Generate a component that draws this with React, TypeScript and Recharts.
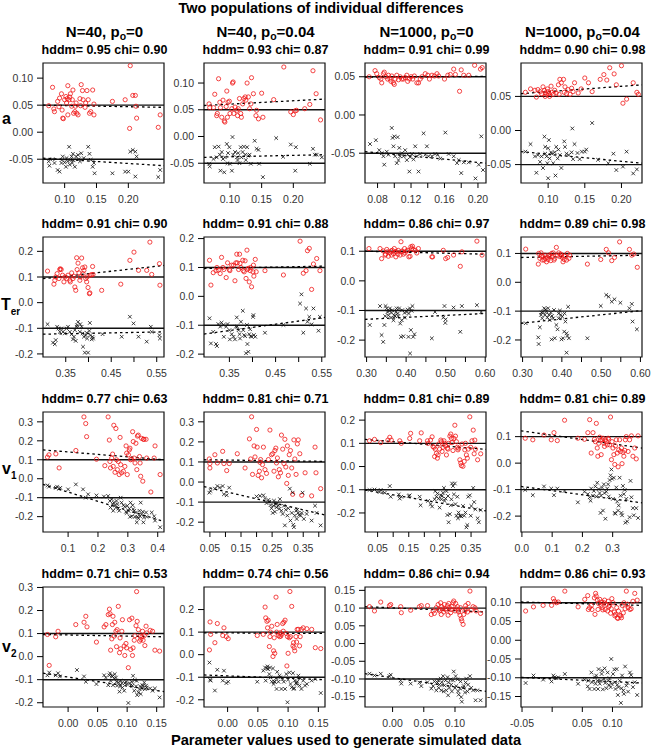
import React from 'react';
import { ScatterChart, Scatter, XAxis, YAxis, ReferenceLine, ReferenceArea } from 'recharts';

type Pt = [number, number];

// ---------- descriptors ----------
const sampleSizes = ['40', '40', '1000', '1000'];
const outlierProps = ['0', '0.04', '0', '0.04'];
const paramNames = ['a', 'T', 'v', 'v'];
const paramSubs = ['', 'er', '1', '2'];
const hddmScores = [
  [0.95, 0.93, 0.91, 0.9],
  [0.91, 0.91, 0.86, 0.89],
  [0.77, 0.81, 0.81, 0.81],
  [0.71, 0.74, 0.86, 0.86],
];
const chiScores = [
  [0.9, 0.87, 0.99, 0.98],
  [0.9, 0.88, 0.97, 0.98],
  [0.63, 0.71, 0.89, 0.89],
  [0.53, 0.56, 0.94, 0.93],
];
const trueValues = [0.05, 0.1, 0.1, 0.1];

// ---------- axes ----------
const xDomains: Pt[][] = [
  [[0.066, 0.256], [0.059, 0.25], [0.065, 0.2096], [0.063, 0.228]],
  [[0.3, 0.566], [0.295, 0.557], [0.296, 0.602], [0.296, 0.604]],
  [[0.016, 0.421], [0.031, 0.42], [0.0095, 0.398], [-0.003, 0.397]],
  [[-0.0425, 0.1624], [-0.039, 0.161], [-0.0442, 0.1497], [-0.0517, 0.149]],
];
const yDomains: Pt[][] = [
  [[-0.094, 0.128], [-0.087, 0.1375], [-0.089, 0.068], [-0.077, 0.099]],
  [[-0.212, 0.256], [-0.21, 0.2055], [-0.257, 0.148], [-0.259, 0.157]],
  [[-0.281, 0.352], [-0.249, 0.349], [-0.282, 0.235], [-0.26, 0.193]],
  [[-0.2185, 0.302], [-0.232, 0.3], [-0.179, 0.1595], [-0.178, 0.142]],
];
const xTickValues: number[][][] = [
  [[0.1, 0.15, 0.2], [0.1, 0.15, 0.2], [0.08, 0.1, 0.12, 0.14, 0.16, 0.18, 0.2], [0.1, 0.15, 0.2]],
  [[0.35, 0.4, 0.45, 0.5, 0.55], [0.35, 0.4, 0.45, 0.5, 0.55], [0.3, 0.35, 0.4, 0.45, 0.5, 0.55, 0.6], [0.3, 0.35, 0.4, 0.45, 0.5, 0.55, 0.6]],
  [[0.1, 0.2, 0.3, 0.4], [0.05, 0.1, 0.15, 0.2, 0.25, 0.3, 0.35, 0.4], [0.05, 0.1, 0.15, 0.2, 0.25, 0.3, 0.35], [0, 0.1, 0.2, 0.3]],
  [[0, 0.05, 0.1, 0.15], [0, 0.05, 0.1, 0.15], [0, 0.05, 0.1], [-0.05, 0, 0.05, 0.1]],
];
const xTickLabels: string[][][] = [
  [['0.10', '0.15', '0.20'], ['0.10', '0.15', '0.20'], ['0.08', '', '0.12', '', '0.16', '', '0.20'], ['0.10', '0.15', '0.20']],
  [['0.35', '', '0.45', '', '0.55'], ['0.35', '', '0.45', '', '0.55'], ['0.30', '', '0.40', '', '0.50', '', '0.60'], ['0.30', '', '0.40', '', '0.50', '', '0.60']],
  [['0.1', '0.2', '0.3', '0.4'], ['0.05', '', '0.15', '', '0.25', '', '0.35', ''], ['0.05', '', '0.15', '', '0.25', '', '0.35'], ['0.0', '0.1', '0.2', '0.3']],
  [['0.00', '0.05', '0.10', '0.15'], ['0.00', '0.05', '0.10', '0.15'], ['0.00', '0.05', '0.10'], ['-0.05', '', '0.05', '0.10']],
];
const yTickValues: number[][][] = [
  [[-0.05, 0, 0.05, 0.1], [-0.05, 0, 0.05, 0.1], [-0.05, 0, 0.05], [-0.05, 0, 0.05]],
  [[-0.2, -0.1, 0, 0.1, 0.2], [-0.2, -0.1, 0, 0.1, 0.2], [-0.2, -0.1, 0, 0.1], [-0.2, -0.1, 0, 0.1]],
  [[-0.2, -0.1, 0, 0.1, 0.2, 0.3], [-0.2, -0.1, 0, 0.1, 0.2, 0.3], [-0.2, -0.1, 0, 0.1, 0.2], [-0.2, -0.1, 0, 0.1]],
  [[-0.2, -0.1, 0, 0.1, 0.2, 0.3], [-0.2, -0.1, 0, 0.1, 0.2], [-0.15, -0.1, -0.05, 0, 0.05, 0.1, 0.15], [-0.15, -0.1, -0.05, 0, 0.05, 0.1]],
];
const yTickLabels: string[][][] = [
  [['-0.05', '0.00', '0.05', '0.10'], ['-0.05', '0.00', '0.05', '0.10'], ['-0.05', '0.00', '0.05'], ['-0.05', '0.00', '0.05']],
  [['-0.2', '-0.1', '0.0', '0.1', '0.2'], ['-0.2', '-0.1', '0.0', '0.1', '0.2'], ['-0.2', '-0.1', '0.0', '0.1'], ['-0.2', '-0.1', '0.0', '0.1']],
  [['-0.2', '-0.1', '0.0', '0.1', '0.2', '0.3'], ['-0.2', '-0.1', '0.0', '0.1', '0.2', '0.3'], ['-0.2', '-0.1', '0.0', '0.1', '0.2'], ['-0.2', '-0.1', '0.0', '0.1']],
  [['-0.2', '-0.1', '0.0', '0.1', '0.2', '0.3'], ['-0.2', '-0.1', '0.0', '0.1', '0.2'], ['-0.15', '-0.10', '-0.05', '0.00', '0.05', '0.10', '0.15'], ['-0.15', '-0.10', '-0.05', '0.00', '0.05', '0.10']],
];

// ---------- regression fits: [y at left edge, y at right edge] ----------
const redFits: Pt[][] = [
  [[0.05, 0.046], [0.058, 0.07], [0.0495, 0.0505], [0.054, 0.067]],
  [[0.0935, 0.145], [0.0965, 0.1046], [0.1, 0.09], [0.086, 0.094]],
  [[0.152, 0.1], [0.111, 0.103], [0.117, 0.074], [0.122, 0.057]],
  [[0.096, 0.086], [0.097, 0.094], [0.104, 0.089], [0.102, 0.093]],
];
const blackFits: Pt[][] = [
  [[-0.048, -0.062], [-0.039, -0.034], [-0.048, -0.063], [-0.031, -0.048]],
  [[-0.123, -0.114], [-0.1305, -0.073], [-0.13, -0.11], [-0.142, -0.098]],
  [[-0.03, -0.226], [-0.023, -0.164], [-0.101, -0.191], [-0.088, -0.15]],
  [[-0.072, -0.152], [-0.09, -0.111], [-0.085, -0.135], [-0.099, -0.114]],
];

// ---------- data: row a ----------
const aN40p0Red: Pt[] = [[0.075,0.049],[0.081,0.083],[0.083,0.043],[0.084,0.038],[0.089,0.057],[0.091,0.047],[0.092,0.063],[0.095,0.071],[0.096,0.041],[0.097,0.026],[0.098,0.025],[0.1,0.06],[0.102,0.066],[0.103,0.054],[0.104,0.062],[0.105,0.086],[0.105,0.032],[0.107,0.06],[0.108,0.065],[0.109,0.071],[0.111,0.048],[0.112,0.06],[0.113,0.078],[0.114,0.035],[0.116,0.038],[0.117,0.048],[0.118,0.054],[0.119,0.035],[0.121,0.032],[0.124,0.062],[0.125,0.049],[0.126,0.088],[0.128,0.077],[0.129,0.06],[0.132,0.046],[0.133,0.054],[0.135,0.077],[0.137,0.06],[0.139,0.035],[0.141,0.038],[0.144,0.078],[0.146,0.032],[0.146,0.052],[0.175,0.057],[0.195,0.06],[0.203,0.123],[0.202,0.007],[0.207,0.068],[0.211,0.068],[0.212,0.048],[0.213,0.026],[0.247,0.009],[0.25,0.032]];
const aN40p0Black: Pt[] = [[0.075,-0.054],[0.076,-0.062],[0.081,-0.05],[0.084,-0.057],[0.089,-0.07],[0.092,-0.073],[0.095,-0.057],[0.096,-0.051],[0.097,-0.045],[0.1,-0.056],[0.102,-0.064],[0.103,-0.048],[0.105,-0.054],[0.107,-0.027],[0.108,-0.06],[0.109,-0.051],[0.111,-0.045],[0.112,-0.057],[0.113,-0.04],[0.114,-0.052],[0.116,-0.064],[0.118,-0.045],[0.121,-0.042],[0.122,-0.05],[0.124,-0.054],[0.126,-0.039],[0.13,-0.048],[0.137,-0.027],[0.139,-0.04],[0.141,-0.051],[0.144,-0.064],[0.147,-0.076],[0.146,-0.057],[0.175,-0.076],[0.195,-0.073],[0.2,-0.073],[0.203,-0.036],[0.207,-0.033],[0.211,-0.036],[0.213,-0.045],[0.211,-0.082],[0.247,-0.083],[0.25,-0.07]];
const aN40p04Red: Pt[] = [[0.067,0.061],[0.068,0.054],[0.074,0.054],[0.076,0.079],[0.079,0.039],[0.08,0.043],[0.082,0.108],[0.084,0.064],[0.085,0.054],[0.087,0.036],[0.089,0.068],[0.091,0.029],[0.092,0.027],[0.094,0.056],[0.095,0.085],[0.096,0.036],[0.097,0.064],[0.099,0.066],[0.1,0.043],[0.103,0.052],[0.104,0.1],[0.105,0.102],[0.106,0.043],[0.108,0.055],[0.111,0.049],[0.112,0.039],[0.113,0.052],[0.115,0.071],[0.117,0.043],[0.118,0.036],[0.12,0.061],[0.122,0.071],[0.124,0.074],[0.125,0.068],[0.127,0.1],[0.129,0.074],[0.131,0.052],[0.133,0.061],[0.134,0.11],[0.137,0.08],[0.141,0.039],[0.142,0.049],[0.145,0.033],[0.15,0.081],[0.152,0.036],[0.169,0.069],[0.185,0.13],[0.196,0.046],[0.2,0.041],[0.203,0.048],[0.205,0.049],[0.218,0.052],[0.226,0.06],[0.231,0.123],[0.236,0.08],[0.243,0.031]];
const aN40p04Black: Pt[] = [[0.067,-0.051],[0.068,-0.056],[0.074,-0.042],[0.076,-0.02],[0.079,-0.039],[0.082,-0.019],[0.084,-0.034],[0.085,-0.064],[0.087,-0.029],[0.089,-0.042],[0.091,-0.067],[0.092,-0.039],[0.095,-0.014],[0.096,-0.05],[0.097,-0.031],[0.099,-0.02],[0.1,-0.051],[0.103,-0.064],[0.104,-0.001],[0.105,-0.034],[0.108,-0.029],[0.111,-0.039],[0.112,-0.044],[0.113,-0.031],[0.115,-0.05],[0.117,-0.02],[0.118,-0.039],[0.12,-0.029],[0.122,-0.019],[0.124,-0.034],[0.125,-0.044],[0.127,-0.02],[0.129,-0.036],[0.131,-0.034],[0.133,-0.051],[0.139,-0.008],[0.142,-0.023],[0.145,-0.025],[0.146,-0.051],[0.152,-0.076],[0.173,-0.003],[0.184,-0.038],[0.196,-0.015],[0.203,-0.064],[0.204,-0.02],[0.226,-0.051],[0.231,-0.023],[0.234,-0.034],[0.237,-0.034],[0.245,-0.039]];
const aN1000p0Red: Pt[] = [[0.07,0.05],[0.077,0.058],[0.079,0.054],[0.082,0.049],[0.084,0.047],[0.085,0.042],[0.087,0.054],[0.088,0.056],[0.09,0.05],[0.092,0.047],[0.093,0.052],[0.095,0.047],[0.096,0.044],[0.097,0.051],[0.099,0.042],[0.1,0.04],[0.101,0.047],[0.103,0.052],[0.105,0.046],[0.107,0.05],[0.109,0.047],[0.111,0.047],[0.113,0.049],[0.115,0.052],[0.116,0.044],[0.118,0.047],[0.12,0.05],[0.122,0.047],[0.124,0.051],[0.127,0.042],[0.129,0.042],[0.131,0.047],[0.133,0.05],[0.137,0.054],[0.14,0.052],[0.142,0.047],[0.145,0.052],[0.148,0.051],[0.151,0.054],[0.153,0.051],[0.16,0.047],[0.164,0.052],[0.167,0.053],[0.171,0.06],[0.173,0.053],[0.178,0.031],[0.18,0.059],[0.183,0.052],[0.189,0.052],[0.196,0.065],[0.203,0.06],[0.205,0.062]];
const aN1000p0Black: Pt[] = [[0.071,-0.038],[0.078,-0.033],[0.082,-0.046],[0.085,-0.05],[0.087,-0.054],[0.088,-0.065],[0.091,-0.048],[0.093,-0.052],[0.097,-0.017],[0.098,-0.03],[0.099,-0.041],[0.1,-0.028],[0.101,-0.054],[0.103,-0.063],[0.104,-0.029],[0.105,-0.059],[0.106,-0.043],[0.107,-0.054],[0.109,-0.05],[0.111,-0.054],[0.113,-0.046],[0.115,-0.059],[0.116,-0.052],[0.118,-0.074],[0.119,-0.055],[0.121,-0.051],[0.123,-0.058],[0.125,-0.041],[0.127,-0.054],[0.129,-0.074],[0.131,-0.051],[0.135,-0.024],[0.137,-0.052],[0.139,-0.041],[0.141,-0.054],[0.145,-0.054],[0.149,-0.051],[0.152,-0.052],[0.155,-0.057],[0.161,-0.023],[0.165,-0.051],[0.171,-0.054],[0.175,-0.063],[0.177,-0.059],[0.18,-0.076],[0.183,-0.062],[0.189,-0.062],[0.197,-0.083],[0.201,-0.065],[0.204,-0.028],[0.206,-0.072]];
const aN1000p04Red: Pt[] = [[0.069,0.056],[0.076,0.061],[0.082,0.059],[0.084,0.049],[0.086,0.06],[0.089,0.057],[0.091,0.054],[0.093,0.064],[0.095,0.059],[0.096,0.05],[0.096,0.055],[0.098,0.053],[0.099,0.061],[0.1,0.057],[0.101,0.054],[0.102,0.05],[0.104,0.065],[0.105,0.056],[0.107,0.053],[0.109,0.059],[0.111,0.055],[0.114,0.067],[0.115,0.053],[0.116,0.075],[0.118,0.07],[0.121,0.075],[0.122,0.056],[0.123,0.064],[0.125,0.054],[0.127,0.06],[0.13,0.053],[0.132,0.062],[0.134,0.057],[0.136,0.07],[0.141,0.055],[0.145,0.061],[0.15,0.077],[0.155,0.07],[0.16,0.057],[0.171,0.075],[0.176,0.082],[0.18,0.074],[0.184,0.092],[0.19,0.083],[0.193,0.067],[0.2,0.095],[0.202,0.04],[0.207,0.046],[0.216,0.07],[0.221,0.056],[0.223,0.053]];
const aN1000p04Black: Pt[] = [[0.069,-0.031],[0.076,-0.02],[0.082,-0.038],[0.084,-0.062],[0.086,-0.036],[0.089,-0.046],[0.091,-0.038],[0.093,-0.055],[0.095,-0.009],[0.096,-0.034],[0.096,-0.024],[0.098,-0.038],[0.099,-0.048],[0.1,-0.026],[0.101,-0.014],[0.102,-0.041],[0.104,-0.032],[0.105,-0.034],[0.107,-0.048],[0.109,-0.032],[0.111,-0.024],[0.113,-0.041],[0.114,-0.028],[0.116,-0.036],[0.118,-0.055],[0.122,-0.016],[0.123,-0.024],[0.125,-0.034],[0.128,-0.036],[0.132,-0.032],[0.133,0.003],[0.134,-0.042],[0.136,-0.02],[0.14,-0.033],[0.143,-0.042],[0.146,-0.031],[0.15,-0.031],[0.152,-0.028],[0.16,0.011],[0.168,-0.043],[0.182,-0.048],[0.189,-0.034],[0.193,-0.058],[0.207,-0.031],[0.202,-0.053],[0.216,-0.063],[0.221,-0.057],[0.1,-0.07],[0.11,-0.066]];

// ---------- data: row Ter ----------
const terN40p0Red: Pt[] = [[0.31,0.123],[0.324,0.072],[0.326,0.087],[0.328,0.1],[0.331,0.113],[0.335,0.094],[0.337,0.129],[0.338,0.132],[0.34,0.129],[0.343,0.107],[0.346,0.081],[0.348,0.1],[0.352,0.094],[0.355,0.107],[0.359,0.087],[0.36,0.081],[0.363,0.116],[0.366,0.094],[0.368,0.103],[0.37,0.061],[0.372,0.048],[0.374,0.175],[0.375,0.129],[0.377,0.154],[0.379,0.116],[0.381,0.087],[0.382,0.1],[0.385,0.174],[0.387,0.136],[0.388,0.113],[0.39,0.126],[0.392,0.139],[0.394,0.094],[0.396,0.081],[0.397,0.1],[0.399,0.059],[0.402,0.035],[0.403,0.038],[0.404,0.107],[0.407,0.109],[0.409,0.141],[0.41,0.11],[0.429,0.048],[0.471,0.072],[0.491,0.165],[0.5,0.197],[0.51,0.126],[0.528,0.126],[0.535,0.236],[0.539,0.11],[0.556,0.152],[0.557,0.068]];
const terN40p0Black: Pt[] = [[0.31,-0.084],[0.322,-0.156],[0.326,-0.162],[0.328,-0.146],[0.331,-0.094],[0.334,-0.101],[0.337,-0.114],[0.34,-0.101],[0.344,-0.114],[0.348,-0.12],[0.352,-0.101],[0.355,-0.094],[0.359,-0.114],[0.363,-0.123],[0.366,-0.143],[0.368,-0.133],[0.37,-0.107],[0.372,-0.149],[0.374,-0.094],[0.375,-0.088],[0.377,-0.075],[0.381,-0.114],[0.382,-0.084],[0.385,-0.094],[0.387,-0.12],[0.388,-0.172],[0.39,-0.133],[0.392,-0.195],[0.394,-0.127],[0.396,-0.118],[0.397,-0.14],[0.399,-0.195],[0.402,-0.11],[0.403,-0.079],[0.404,-0.127],[0.407,-0.143],[0.409,-0.133],[0.41,-0.14],[0.431,-0.123],[0.473,-0.133],[0.491,-0.055],[0.499,-0.081],[0.51,-0.133],[0.528,-0.152],[0.537,-0.094],[0.539,-0.114],[0.556,-0.127],[0.557,-0.14]];
const terN40p04Red: Pt[] = [[0.307,0.125],[0.31,0.039],[0.315,0.082],[0.321,0.089],[0.323,0.1],[0.326,0.091],[0.33,0.079],[0.333,0.135],[0.336,0.1],[0.338,0.093],[0.343,0.065],[0.346,0.116],[0.35,0.093],[0.351,0.089],[0.355,0.108],[0.359,0.108],[0.362,0.054],[0.364,0.116],[0.366,0.146],[0.367,0.116],[0.37,0.093],[0.372,0.146],[0.373,0.114],[0.375,0.1],[0.379,0.125],[0.38,0.089],[0.382,0.085],[0.384,0.123],[0.386,0.062],[0.388,0.16],[0.389,0.093],[0.391,0.097],[0.393,0.05],[0.395,0.089],[0.396,0.1],[0.398,0.033],[0.401,0.085],[0.402,0.108],[0.403,0.07],[0.406,0.128],[0.408,0.085],[0.427,0.089],[0.467,0.074],[0.503,0.191],[0.51,0.08],[0.516,0.089],[0.519,0.158],[0.523,0.166],[0.528,0.024],[0.532,0.112],[0.539,0.131],[0.546,0.089]];
const terN40p04Black: Pt[] = [[0.307,-0.076],[0.31,-0.163],[0.315,-0.123],[0.321,-0.165],[0.323,-0.172],[0.326,-0.096],[0.33,-0.105],[0.333,-0.091],[0.337,-0.099],[0.338,-0.14],[0.343,-0.105],[0.346,-0.096],[0.35,-0.117],[0.351,-0.149],[0.355,-0.131],[0.359,-0.14],[0.362,-0.149],[0.364,-0.105],[0.366,-0.073],[0.367,-0.105],[0.37,-0.117],[0.372,-0.131],[0.373,-0.146],[0.375,-0.088],[0.379,-0.05],[0.38,-0.117],[0.382,-0.134],[0.384,-0.138],[0.386,-0.197],[0.388,-0.099],[0.389,-0.165],[0.391,-0.192],[0.393,-0.131],[0.395,-0.114],[0.396,-0.138],[0.398,-0.14],[0.401,-0.071],[0.402,-0.065],[0.403,-0.134],[0.406,-0.14],[0.427,-0.126],[0.467,-0.099],[0.503,-0.025],[0.506,0.007],[0.51,-0.126],[0.516,-0.042],[0.519,-0.088],[0.523,-0.071],[0.528,-0.097],[0.532,-0.042],[0.543,-0.119],[0.546,-0.071]];
const terN1000p0Red: Pt[] = [[0.306,0.109],[0.334,0.109],[0.338,0.075],[0.342,0.101],[0.347,0.087],[0.348,0.09],[0.351,0.106],[0.353,0.098],[0.355,0.083],[0.359,0.094],[0.362,0.101],[0.363,0.087],[0.365,0.103],[0.368,0.092],[0.37,0.109],[0.372,0.098],[0.374,0.081],[0.376,0.098],[0.379,0.09],[0.38,0.103],[0.385,0.087],[0.387,0.132],[0.389,0.098],[0.39,0.101],[0.393,0.09],[0.396,0.109],[0.397,0.094],[0.401,0.101],[0.404,0.103],[0.407,0.081],[0.41,0.083],[0.412,0.115],[0.414,0.109],[0.416,0.117],[0.418,0.106],[0.423,0.103],[0.427,0.094],[0.431,0.109],[0.465,0.081],[0.467,0.081],[0.494,0.103],[0.5,0.075],[0.505,0.079],[0.52,0.087],[0.537,0.049],[0.541,0.098],[0.579,0.134],[0.592,0.087]];
const terN1000p0Black: Pt[] = [[0.308,-0.149],[0.334,-0.085],[0.338,-0.183],[0.342,-0.206],[0.345,-0.149],[0.347,-0.119],[0.348,-0.085],[0.351,-0.093],[0.353,-0.105],[0.355,-0.116],[0.357,-0.101],[0.359,-0.093],[0.362,-0.124],[0.363,-0.108],[0.365,-0.099],[0.368,-0.133],[0.37,-0.116],[0.372,-0.119],[0.374,-0.105],[0.376,-0.093],[0.379,-0.11],[0.38,-0.119],[0.382,-0.093],[0.385,-0.144],[0.387,-0.189],[0.389,-0.133],[0.39,-0.099],[0.393,-0.187],[0.396,-0.108],[0.397,-0.124],[0.401,-0.105],[0.404,-0.097],[0.406,-0.189],[0.407,-0.11],[0.41,-0.093],[0.41,-0.245],[0.412,-0.166],[0.414,-0.101],[0.416,-0.085],[0.418,-0.189],[0.421,-0.18],[0.465,-0.194],[0.473,-0.105],[0.494,-0.124],[0.497,-0.085],[0.499,-0.142],[0.5,-0.13],[0.52,-0.09],[0.537,-0.172],[0.541,-0.085],[0.579,-0.082],[0.59,-0.105]];
const terN1000p04Red: Pt[] = [[0.308,0.115],[0.34,0.063],[0.341,0.1],[0.344,0.083],[0.347,0.102],[0.348,0.091],[0.35,0.077],[0.352,0.089],[0.355,0.077],[0.357,0.094],[0.358,0.083],[0.361,0.071],[0.363,0.086],[0.365,0.079],[0.367,0.094],[0.369,0.089],[0.372,0.075],[0.374,0.1],[0.375,0.089],[0.378,0.102],[0.38,0.077],[0.382,0.083],[0.386,0.121],[0.389,0.094],[0.392,0.102],[0.395,0.089],[0.397,0.098],[0.399,0.094],[0.401,0.086],[0.403,0.071],[0.406,0.079],[0.407,0.091],[0.412,0.077],[0.414,0.1],[0.418,0.083],[0.42,0.094],[0.465,0.063],[0.499,0.079],[0.513,0.114],[0.519,0.102],[0.527,0.075],[0.534,0.086],[0.547,0.14],[0.572,0.114],[0.578,0.094],[0.583,0.098],[0.592,0.052]];
const terN1000p04Black: Pt[] = [[0.308,-0.142],[0.34,-0.191],[0.341,-0.214],[0.344,-0.156],[0.347,-0.113],[0.348,-0.105],[0.35,-0.125],[0.352,-0.102],[0.355,-0.09],[0.357,-0.113],[0.358,-0.094],[0.361,-0.102],[0.363,-0.122],[0.365,-0.09],[0.367,-0.113],[0.369,-0.131],[0.372,-0.105],[0.374,-0.198],[0.375,-0.117],[0.378,-0.125],[0.38,-0.096],[0.382,-0.194],[0.386,-0.148],[0.389,-0.163],[0.392,-0.125],[0.392,-0.108],[0.395,-0.098],[0.397,-0.113],[0.399,-0.198],[0.401,-0.119],[0.403,-0.194],[0.406,-0.171],[0.407,-0.108],[0.409,-0.136],[0.412,-0.177],[0.412,-0.244],[0.414,-0.186],[0.416,-0.085],[0.418,-0.194],[0.465,-0.194],[0.499,-0.082],[0.513,-0.044],[0.519,-0.05],[0.527,-0.067],[0.534,-0.059],[0.549,-0.071],[0.572,-0.09],[0.578,-0.075],[0.58,-0.136],[0.591,-0.163]];

// ---------- data: row v1 ----------
const v1N40p0Red: Pt[] = [[0.031,0.114],[0.036,0.126],[0.059,0.131],[0.07,0.057],[0.126,0.149],[0.153,0.326],[0.159,0.291],[0.162,0.222],[0.195,0.103],[0.223,0.069],[0.234,0.326],[0.238,0.204],[0.24,0.091],[0.242,0.057],[0.246,0.109],[0.249,0.13],[0.251,0.065],[0.253,0.282],[0.257,0.034],[0.26,0.265],[0.262,0.1],[0.265,0.048],[0.268,0.091],[0.271,0.022],[0.274,0.218],[0.276,0.074],[0.279,0.031],[0.285,0.039],[0.29,0.065],[0.294,0.173],[0.296,0.135],[0.298,0.022],[0.302,0.126],[0.305,0.152],[0.307,0.161],[0.309,0.1],[0.313,0.103],[0.316,0.248],[0.318,0.196],[0.321,0.109],[0.324,0.083],[0.327,0.187],[0.33,0.048],[0.332,0.225],[0.335,0.23],[0.339,0.117],[0.341,0.083],[0.343,0.013],[0.346,0.213],[0.35,-0.013],[0.352,0.208],[0.354,0.208],[0.361,0.208],[0.363,0.109],[0.377,-0.07],[0.388,0.109],[0.391,0.173],[0.408,0.022]];
const v1N40p0Black: Pt[] = [[0.031,-0.035],[0.036,-0.042],[0.059,-0.048],[0.063,-0.042],[0.07,-0.053],[0.074,-0.048],[0.1,-0.056],[0.126,-0.03],[0.15,-0.056],[0.159,-0.1],[0.167,-0.082],[0.195,-0.088],[0.22,-0.094],[0.234,-0.091],[0.24,-0.117],[0.242,-0.152],[0.246,-0.108],[0.249,-0.134],[0.251,-0.169],[0.253,-0.126],[0.257,-0.14],[0.26,-0.152],[0.262,-0.117],[0.265,-0.134],[0.268,-0.157],[0.271,-0.169],[0.276,-0.1],[0.279,-0.126],[0.285,-0.14],[0.29,-0.147],[0.294,-0.174],[0.296,-0.181],[0.298,-0.143],[0.302,-0.169],[0.305,-0.157],[0.307,-0.201],[0.309,-0.126],[0.313,-0.198],[0.316,-0.14],[0.318,-0.16],[0.321,-0.169],[0.324,-0.201],[0.327,-0.178],[0.33,-0.23],[0.332,-0.201],[0.335,-0.209],[0.339,-0.169],[0.341,-0.198],[0.343,-0.126],[0.346,-0.187],[0.35,-0.174],[0.352,-0.23],[0.354,-0.204],[0.361,-0.178],[0.363,-0.201],[0.38,-0.178],[0.388,-0.198],[0.391,-0.221],[0.408,-0.256]];
const v1N40p04Red: Pt[] = [[0.048,0.115],[0.05,0.092],[0.05,0.07],[0.066,0.136],[0.074,0.095],[0.091,0.153],[0.095,0.092],[0.104,0.057],[0.112,0.092],[0.138,0.141],[0.163,0.07],[0.177,0.215],[0.181,0.115],[0.184,0.325],[0.187,0.038],[0.192,0.18],[0.195,0.125],[0.2,0.262],[0.202,0.174],[0.205,0.033],[0.209,0.054],[0.211,0.098],[0.213,0.112],[0.216,0.021],[0.219,0.087],[0.222,0.174],[0.227,0.062],[0.232,0.043],[0.238,0.112],[0.243,0.259],[0.248,0.136],[0.252,0.141],[0.256,0.054],[0.259,0.157],[0.262,0.169],[0.264,0.095],[0.267,0.12],[0.27,0.026],[0.273,0.062],[0.277,0.046],[0.28,0.234],[0.284,0.164],[0.288,0.092],[0.291,0.213],[0.294,0.075],[0.297,-0.007],[0.299,0.18],[0.302,0.033],[0.305,0.136],[0.309,0.157],[0.313,0.07],[0.316,-0.061],[0.32,0.21],[0.323,0.115],[0.327,0.038],[0.331,0.19],[0.334,0.21],[0.339,0.141],[0.345,-0.066],[0.356,0.046],[0.377,-0.069],[0.388,0.174],[0.391,0.046],[0.406,-0.033]];
const v1N40p04Black: Pt[] = [[0.048,-0.053],[0.052,-0.044],[0.066,-0.033],[0.074,-0.02],[0.082,-0.028],[0.091,-0.02],[0.095,-0.061],[0.104,-0.066],[0.112,-0.028],[0.2,-0.072],[0.211,-0.069],[0.222,-0.066],[0.227,-0.082],[0.232,-0.105],[0.238,-0.089],[0.241,-0.098],[0.245,-0.115],[0.248,-0.131],[0.252,-0.154],[0.254,-0.118],[0.256,-0.093],[0.259,-0.148],[0.262,-0.11],[0.264,-0.126],[0.267,-0.105],[0.27,-0.118],[0.273,-0.134],[0.275,-0.085],[0.28,-0.143],[0.284,-0.159],[0.288,-0.118],[0.291,-0.216],[0.294,-0.138],[0.299,-0.167],[0.302,-0.131],[0.307,-0.033],[0.309,-0.192],[0.313,-0.154],[0.316,-0.053],[0.318,-0.213],[0.32,-0.225],[0.323,-0.167],[0.327,-0.143],[0.329,-0.184],[0.331,-0.138],[0.334,-0.154],[0.337,-0.164],[0.342,-0.167],[0.345,-0.154],[0.348,-0.053],[0.352,-0.184],[0.361,-0.159],[0.377,-0.192],[0.388,-0.118],[0.393,-0.154],[0.406,-0.216]];
const v1N1000p0Red: Pt[] = [[0.024,0.111],[0.04,0.117],[0.06,0.103],[0.083,0.114],[0.089,0.126],[0.094,0.114],[0.121,0.111],[0.126,0.1],[0.153,0.121],[0.156,0.143],[0.185,0.111],[0.19,0.145],[0.21,0.111],[0.212,0.1],[0.22,0.114],[0.225,0.128],[0.228,0.086],[0.231,0.083],[0.233,0.043],[0.235,0.075],[0.239,0.057],[0.242,0.036],[0.244,0.05],[0.246,0.097],[0.249,0.075],[0.253,0.114],[0.255,0.107],[0.257,0.065],[0.26,0.083],[0.263,0.111],[0.265,0.1],[0.268,0.089],[0.271,0.05],[0.274,0.079],[0.276,0.075],[0.278,0.1],[0.282,0.131],[0.285,0.14],[0.287,0.121],[0.289,0.103],[0.292,0.069],[0.295,0.121],[0.298,0.178],[0.3,0.131],[0.303,0.107],[0.306,0.083],[0.308,0.072],[0.31,0.079],[0.314,0.029],[0.317,0.015],[0.319,0.004],[0.321,0.097],[0.324,0.001],[0.328,0.022],[0.33,0.072],[0.332,0.1],[0.335,0.05],[0.338,0.036],[0.341,0.075],[0.346,0.214],[0.349,0.083],[0.353,0.111],[0.357,0.157],[0.36,0.055],[0.362,0.114],[0.364,0.075],[0.371,0.029],[0.381,0.055]];
const v1N1000p0Black: Pt[] = [[0.024,-0.101],[0.04,-0.099],[0.056,-0.11],[0.06,-0.101],[0.073,-0.113],[0.089,-0.084],[0.092,-0.13],[0.118,-0.12],[0.121,-0.138],[0.126,-0.13],[0.15,-0.127],[0.153,-0.124],[0.185,-0.13],[0.188,-0.167],[0.212,-0.148],[0.22,-0.162],[0.225,-0.172],[0.233,-0.141],[0.235,-0.106],[0.239,-0.13],[0.242,-0.116],[0.246,-0.138],[0.249,-0.177],[0.253,-0.124],[0.255,-0.141],[0.257,-0.127],[0.26,-0.113],[0.263,-0.092],[0.265,-0.148],[0.268,-0.138],[0.271,-0.106],[0.274,-0.209],[0.276,-0.127],[0.278,-0.24],[0.282,-0.205],[0.285,-0.167],[0.287,-0.141],[0.289,-0.073],[0.292,-0.084],[0.295,-0.12],[0.298,-0.073],[0.3,-0.162],[0.303,-0.212],[0.306,-0.13],[0.308,-0.223],[0.31,-0.198],[0.314,-0.212],[0.317,-0.212],[0.319,-0.215],[0.324,-0.17],[0.328,-0.212],[0.332,-0.198],[0.335,-0.262],[0.338,-0.252],[0.341,-0.13],[0.346,-0.124],[0.349,-0.212],[0.351,-0.17],[0.357,-0.092],[0.36,-0.153],[0.364,-0.184],[0.371,-0.223],[0.375,-0.24],[0.381,-0.187]];
const v1N1000p04Red: Pt[] = [[0.011,0.094],[0.036,0.088],[0.073,0.106],[0.097,0.088],[0.106,0.115],[0.117,0.085],[0.141,0.162],[0.185,0.094],[0.207,0.09],[0.218,0.115],[0.224,0.164],[0.229,0.038],[0.235,0.115],[0.24,0.09],[0.243,0.081],[0.246,0.15],[0.249,0.057],[0.251,0.026],[0.254,0.075],[0.257,0.098],[0.26,0.088],[0.262,0.032],[0.265,0.088],[0.268,0.094],[0.271,0.075],[0.273,0.063],[0.276,0.088],[0.279,0.081],[0.282,0.069],[0.285,0.094],[0.287,0.09],[0.29,0.069],[0.293,0.174],[0.296,0.013],[0.298,0.081],[0.301,0.057],[0.304,0.032],[0.307,-0.005],[0.309,0.065],[0.312,0.088],[0.315,0.038],[0.318,-0.014],[0.32,0.05],[0.323,0.088],[0.326,0.044],[0.329,0.057],[0.331,-0.002],[0.334,0.041],[0.337,0.026],[0.34,0.048],[0.342,0.088],[0.345,0.1],[0.351,0.044],[0.356,0.088],[0.362,0.103],[0.367,0.026],[0.373,0.057],[0.378,0.016],[0.384,0.103]];
const v1N1000p04Black: Pt[] = [[0.011,-0.101],[0.036,-0.121],[0.073,-0.088],[0.097,-0.096],[0.106,-0.121],[0.117,-0.096],[0.141,-0.105],[0.185,-0.148],[0.207,-0.108],[0.218,-0.117],[0.224,-0.129],[0.227,-0.142],[0.229,-0.096],[0.235,-0.123],[0.238,-0.105],[0.243,-0.088],[0.246,-0.126],[0.249,-0.074],[0.254,-0.098],[0.257,-0.113],[0.26,-0.188],[0.262,-0.123],[0.265,-0.092],[0.268,-0.179],[0.271,-0.08],[0.273,-0.113],[0.276,-0.21],[0.279,-0.108],[0.282,-0.096],[0.285,-0.08],[0.287,-0.126],[0.29,-0.064],[0.293,-0.046],[0.296,-0.024],[0.298,-0.059],[0.301,-0.135],[0.304,-0.055],[0.307,-0.188],[0.309,-0.191],[0.312,-0.092],[0.315,-0.145],[0.318,-0.179],[0.32,-0.16],[0.323,-0.055],[0.326,-0.123],[0.329,-0.188],[0.331,-0.197],[0.334,-0.086],[0.337,-0.117],[0.34,-0.101],[0.342,-0.225],[0.345,-0.135],[0.348,-0.22],[0.356,-0.204],[0.359,-0.067],[0.362,-0.129],[0.367,-0.17],[0.37,-0.197],[0.378,-0.17],[0.384,-0.207]];

// ---------- data: row v2 ----------
const v2N40p0Red: Pt[] = [[-0.035,0.096],[-0.032,-0.038],[-0.021,0.086],[-0.017,0.11],[0.013,0.139],[0.027,0.149],[0.03,0.175],[0.032,0.129],[0.048,0.063],[0.061,0.129],[0.064,0.139],[0.068,0.182],[0.07,0.206],[0.071,0.186],[0.072,0.028],[0.074,0.077],[0.075,0.139],[0.076,0.175],[0.078,0.089],[0.079,0.149],[0.081,0.11],[0.082,0.043],[0.083,0.117],[0.085,0.218],[0.087,0.017],[0.088,0.081],[0.089,0.034],[0.091,0.11],[0.092,0.16],[0.095,0.046],[0.096,0.005],[0.098,0.057],[0.099,0.038],[0.102,-0.048],[0.104,0.16],[0.106,0.031],[0.108,0.167],[0.109,0.005],[0.11,0.038],[0.112,0.071],[0.113,0.091],[0.115,0.134],[0.116,0.282],[0.117,0.153],[0.119,0.117],[0.121,0.067],[0.122,0.089],[0.123,0.074],[0.125,0.086],[0.126,0.11],[0.127,0.071],[0.129,0.091],[0.13,0.048],[0.132,0.132],[0.133,0.103],[0.139,0.114],[0.143,0.11],[0.147,0.028],[0.155,0.024]];
const v2N40p0Black: Pt[] = [[-0.035,-0.081],[-0.032,-0.069],[-0.021,-0.081],[-0.017,-0.072],[-0.014,-0.086],[0.015,-0.058],[0.027,-0.086],[0.03,-0.109],[0.048,-0.119],[0.061,-0.081],[0.064,-0.091],[0.068,-0.124],[0.07,-0.081],[0.071,-0.072],[0.072,-0.105],[0.074,-0.083],[0.075,-0.086],[0.076,-0.124],[0.078,-0.095],[0.079,-0.076],[0.081,-0.091],[0.082,-0.109],[0.083,-0.126],[0.085,-0.112],[0.087,-0.152],[0.088,-0.129],[0.089,-0.105],[0.091,-0.115],[0.092,-0.134],[0.095,-0.148],[0.096,-0.115],[0.098,-0.109],[0.099,-0.119],[0.102,-0.201],[0.104,-0.115],[0.106,-0.124],[0.108,-0.109],[0.109,-0.126],[0.11,-0.083],[0.112,-0.148],[0.113,-0.101],[0.115,-0.129],[0.116,-0.105],[0.117,-0.167],[0.119,-0.155],[0.121,-0.141],[0.122,-0.129],[0.123,-0.162],[0.125,-0.138],[0.126,-0.124],[0.127,-0.126],[0.129,-0.112],[0.13,-0.141],[0.132,-0.126],[0.133,-0.134],[0.139,-0.138],[0.143,-0.148],[0.147,-0.138],[0.155,-0.177]];
const v2N40p04Red: Pt[] = [[-0.03,0.021],[-0.029,0.145],[-0.028,0.09],[-0.021,0.053],[-0.017,0.138],[-0.008,0.085],[-0.006,0.119],[-0.002,0.08],[0.001,0.071],[0.049,0.085],[0.059,0.09],[0.062,0.211],[0.063,0.163],[0.065,0.148],[0.066,0.119],[0.067,0.153],[0.069,0.036],[0.07,0.08],[0.071,0.1],[0.073,0.126],[0.075,-0.008],[0.076,0.017],[0.077,0.075],[0.078,0.006],[0.08,0.255],[0.081,0.1],[0.082,0.134],[0.084,0.085],[0.086,0.08],[0.087,0.097],[0.088,0.082],[0.089,0.09],[0.091,0.138],[0.092,0.104],[0.093,0.144],[0.095,0.153],[0.097,0.094],[0.098,-0.05],[0.099,0.08],[0.1,0.006],[0.102,0.075],[0.103,0.28],[0.104,0.08],[0.106,0.214],[0.108,0.039],[0.109,0.053],[0.11,0.031],[0.111,0.017],[0.113,0.08],[0.114,0.056],[0.115,0.112],[0.117,0.112],[0.119,0.039],[0.12,0.08],[0.122,0.112],[0.125,0.119],[0.131,0.115],[0.139,0.112],[0.145,0.031],[0.154,0.027]];
const v2N40p04Black: Pt[] = [[-0.03,-0.035],[-0.029,-0.111],[-0.028,-0.115],[-0.021,-0.159],[-0.017,-0.067],[-0.008,-0.115],[-0.006,-0.071],[-0.002,-0.126],[0.001,-0.12],[0.049,-0.12],[0.059,-0.071],[0.062,-0.057],[0.063,-0.115],[0.065,-0.061],[0.066,-0.052],[0.067,-0.064],[0.069,-0.086],[0.07,-0.057],[0.071,-0.101],[0.073,-0.12],[0.075,-0.061],[0.076,-0.13],[0.077,-0.12],[0.078,-0.12],[0.08,-0.105],[0.081,-0.152],[0.082,-0.076],[0.084,-0.12],[0.086,-0.093],[0.087,-0.101],[0.089,-0.152],[0.091,-0.108],[0.093,-0.12],[0.095,-0.152],[0.097,-0.086],[0.099,-0.211],[0.1,-0.111],[0.102,-0.079],[0.104,-0.13],[0.106,-0.145],[0.108,-0.082],[0.109,-0.152],[0.11,-0.149],[0.111,-0.115],[0.113,-0.126],[0.114,-0.13],[0.115,-0.12],[0.117,-0.093],[0.119,-0.137],[0.12,-0.105],[0.122,-0.152],[0.125,-0.115],[0.128,-0.137],[0.131,-0.13],[0.139,-0.115],[0.145,-0.108],[0.154,-0.17]];
const v2N1000p0Red: Pt[] = [[-0.037,0.104],[-0.029,0.092],[-0.019,0.117],[-0.005,0.107],[-0.003,0.11],[0.013,0.104],[0.014,0.087],[0.029,0.094],[0.043,0.104],[0.046,0.107],[0.056,0.107],[0.062,0.082],[0.065,0.092],[0.067,0.085],[0.07,0.101],[0.073,0.11],[0.074,0.096],[0.075,0.092],[0.077,0.115],[0.078,0.082],[0.079,0.104],[0.081,0.098],[0.082,0.089],[0.083,0.11],[0.085,0.098],[0.086,0.094],[0.088,0.107],[0.089,0.08],[0.09,0.113],[0.091,0.101],[0.093,0.087],[0.094,0.096],[0.095,0.104],[0.097,0.115],[0.098,0.12],[0.1,0.092],[0.101,0.113],[0.102,0.098],[0.104,0.104],[0.105,0.094],[0.106,0.089],[0.108,0.08],[0.109,0.101],[0.11,0.07],[0.111,0.064],[0.113,0.054],[0.114,0.082],[0.116,0.092],[0.117,0.107],[0.118,0.098],[0.12,0.089],[0.121,0.113],[0.124,0.148],[0.126,0.094],[0.129,0.104],[0.132,0.101],[0.134,0.092],[0.141,0.085]];
const v2N1000p0Black: Pt[] = [[-0.037,-0.085],[-0.029,-0.09],[-0.019,-0.085],[-0.005,-0.092],[-0.003,-0.088],[0.013,-0.104],[0.014,-0.113],[0.029,-0.113],[0.043,-0.11],[0.046,-0.12],[0.056,-0.109],[0.062,-0.127],[0.065,-0.12],[0.067,-0.107],[0.07,-0.132],[0.072,-0.11],[0.073,-0.104],[0.074,-0.125],[0.075,-0.116],[0.077,-0.099],[0.078,-0.132],[0.079,-0.109],[0.081,-0.092],[0.082,-0.135],[0.083,-0.118],[0.085,-0.104],[0.086,-0.132],[0.088,-0.095],[0.089,-0.146],[0.09,-0.11],[0.091,-0.125],[0.093,-0.101],[0.094,-0.116],[0.095,-0.135],[0.097,-0.104],[0.098,-0.079],[0.1,-0.125],[0.101,-0.092],[0.102,-0.12],[0.104,-0.101],[0.105,-0.135],[0.106,-0.144],[0.108,-0.127],[0.109,-0.107],[0.11,-0.151],[0.111,-0.164],[0.113,-0.125],[0.114,-0.12],[0.116,-0.138],[0.117,-0.11],[0.118,-0.099],[0.12,-0.135],[0.121,-0.116],[0.124,-0.092],[0.126,-0.125],[0.129,-0.132],[0.133,-0.16],[0.136,-0.132],[0.141,-0.16]];
const v2N1000p04Red: Pt[] = [[-0.044,0.078],[-0.031,0.089],[-0.015,0.093],[-0.001,0.093],[0.002,0.111],[0.004,0.104],[0.007,0.1],[0.01,0.102],[0.021,0.131],[0.043,0.089],[0.054,0.109],[0.059,0.119],[0.06,0.082],[0.062,0.087],[0.065,0.093],[0.066,0.082],[0.07,0.113],[0.071,0.069],[0.072,0.125],[0.073,0.118],[0.075,0.107],[0.076,0.082],[0.077,0.098],[0.079,0.109],[0.081,0.093],[0.082,0.102],[0.083,0.087],[0.084,0.081],[0.086,0.1],[0.087,0.107],[0.088,0.082],[0.09,0.096],[0.092,0.078],[0.093,0.104],[0.094,0.089],[0.095,0.093],[0.097,0.072],[0.098,0.084],[0.099,0.111],[0.101,0.1],[0.103,0.075],[0.104,0.065],[0.105,0.069],[0.107,0.087],[0.108,0.06],[0.109,0.058],[0.11,0.078],[0.112,0.066],[0.114,0.065],[0.115,0.06],[0.116,0.093],[0.118,0.073],[0.119,0.1],[0.121,0.084],[0.123,0.131],[0.125,0.096],[0.126,0.087],[0.129,0.082],[0.131,0.084],[0.134,0.104],[0.137,0.125],[0.141,0.107]];
const v2N1000p04Black: Pt[] = [[-0.044,-0.114],[-0.031,-0.094],[-0.015,-0.105],[-0.001,-0.11],[0.002,-0.094],[0.004,-0.099],[0.007,-0.101],[0.01,-0.099],[0.021,-0.09],[0.043,-0.116],[0.054,-0.105],[0.059,-0.123],[0.06,-0.108],[0.062,-0.13],[0.065,-0.086],[0.066,-0.112],[0.07,-0.13],[0.071,-0.099],[0.072,-0.116],[0.073,-0.094],[0.075,-0.108],[0.076,-0.13],[0.077,-0.077],[0.079,-0.116],[0.081,-0.108],[0.082,-0.09],[0.083,-0.081],[0.084,-0.131],[0.086,-0.103],[0.087,-0.075],[0.088,-0.114],[0.09,-0.128],[0.092,-0.086],[0.093,-0.108],[0.094,-0.119],[0.095,-0.101],[0.097,-0.125],[0.098,-0.05],[0.099,-0.116],[0.101,-0.09],[0.103,-0.078],[0.104,-0.112],[0.105,-0.13],[0.107,-0.077],[0.108,-0.119],[0.109,-0.146],[0.11,-0.125],[0.112,-0.108],[0.114,-0.167],[0.115,-0.128],[0.116,-0.094],[0.118,-0.134],[0.119,-0.143],[0.121,-0.07],[0.123,-0.121],[0.125,-0.114],[0.126,-0.137],[0.129,-0.086],[0.131,-0.093],[0.134,-0.125],[0.137,-0.112],[0.141,-0.146]];

const redSets: Pt[][][] = [
  [aN40p0Red, aN40p04Red, aN1000p0Red, aN1000p04Red],
  [terN40p0Red, terN40p04Red, terN1000p0Red, terN1000p04Red],
  [v1N40p0Red, v1N40p04Red, v1N1000p0Red, v1N1000p04Red],
  [v2N40p0Red, v2N40p04Red, v2N1000p0Red, v2N1000p04Red],
];
const blackSets: Pt[][][] = [
  [aN40p0Black, aN40p04Black, aN1000p0Black, aN1000p04Black],
  [terN40p0Black, terN40p04Black, terN1000p0Black, terN1000p04Black],
  [v1N40p0Black, v1N40p04Black, v1N1000p0Black, v1N1000p04Black],
  [v2N40p0Black, v2N40p04Black, v2N1000p0Black, v2N1000p04Black],
];

// ---------- layout ----------
const FONT = '"Liberation Sans", Arial, Helvetica, sans-serif';
const colLeft = [43, 204, 365, 521];
const rowTop = [63, 237, 412, 587];
const PW = 121;
const PH = 120;
const YW = 42;
const XH = 30;
const PADT = 8;
const PADR = 12;

const RedCircle = (p: any) =>
  p.cx == null ? <g /> : <circle cx={p.cx} cy={p.cy} r={2.1} fill="none" stroke="#f01818" strokeWidth={0.8} />;
const BlackX = (p: any) => {
  if (p.cx == null) return <g />;
  const s = 1.8;
  return (
    <path
      d={`M${p.cx - s},${p.cy - s}L${p.cx + s},${p.cy + s}M${p.cx - s},${p.cy + s}L${p.cx + s},${p.cy - s}`}
      stroke="#111"
      strokeWidth={0.8}
      fill="none"
    />
  );
};

const labelFor = (vals: number[], labels: string[]) => (v: number) => {
  const i = vals.findIndex((t) => Math.abs(t - v) < 1e-9);
  return i >= 0 ? labels[i] : '';
};

function Panel({ r, c }: { r: number; c: number }) {
  const xd = xDomains[r][c];
  const yd = yDomains[r][c];
  const xt = xTickValues[r][c];
  const yt = yTickValues[r][c];
  const red = redSets[r][c].map(([x, y]) => ({ x, y }));
  const black = blackSets[r][c].map(([x, y]) => ({ x, y }));
  const rf = redFits[r][c];
  const bf = blackFits[r][c];
  const tv = trueValues[r];
  const tickStyle = { fontSize: 10.5, fill: '#333', fontFamily: FONT };
  return (
    <div style={{ position: 'absolute', left: colLeft[c] - YW, top: rowTop[r] - PADT }}>
      <ScatterChart
        width={YW + PW + PADR}
        height={PADT + PH + XH}
        margin={{ top: PADT, right: PADR, bottom: 0, left: 0 }}
      >
        <XAxis
          type="number"
          dataKey="x"
          domain={xd}
          allowDataOverflow
          ticks={xt}
          interval={0}
          tickFormatter={labelFor(xt, xTickLabels[r][c])}
          axisLine={false}
          tickLine={{ stroke: '#000', strokeWidth: 1 }}
          tickSize={5}
          tickMargin={8}
          height={XH}
          tick={tickStyle}
        />
        <YAxis
          type="number"
          dataKey="y"
          domain={yd}
          allowDataOverflow
          ticks={yt}
          interval={0}
          tickFormatter={labelFor(yt, yTickLabels[r][c])}
          axisLine={false}
          tickLine={{ stroke: '#000', strokeWidth: 1 }}
          tickSize={6}
          tickMargin={4}
          width={YW}
          tick={tickStyle}
        />
        <Scatter data={red} shape={RedCircle} isAnimationActive={false} />
        <Scatter data={black} shape={BlackX} isAnimationActive={false} />
        <ReferenceLine y={tv} stroke="#111" strokeWidth={1.4} />
        <ReferenceLine y={-tv} stroke="#111" strokeWidth={1.4} />
        <ReferenceLine
          segment={[{ x: xd[0], y: rf[0] }, { x: xd[1], y: rf[1] }]}
          stroke="#000"
          strokeWidth={1.3}
          strokeDasharray="2.5 3"
        />
        <ReferenceLine
          segment={[{ x: xd[0], y: bf[0] }, { x: xd[1], y: bf[1] }]}
          stroke="#000"
          strokeWidth={1.3}
          strokeDasharray="2.5 3"
        />
        <ReferenceArea
          x1={xd[0]}
          x2={xd[1]}
          y1={yd[0]}
          y2={yd[1]}
          fill="none"
          fillOpacity={0}
          stroke="#111"
          strokeWidth={1.2}
          ifOverflow="visible"
        />
      </ScatterChart>
    </div>
  );
}

export default function App() {
  const rowLabelY = [124, 310, 474, 652];
  const rowLabelX = [2, 1, 2, 2];
  return (
    <div style={{ position: 'absolute', left: 0, top: 0, width: 652, height: 750, background: '#fff' }}>
      {[0, 1, 2, 3].map((r) => [0, 1, 2, 3].map((c) => <Panel key={`${r}-${c}`} r={r} c={c} />))}
      <svg
        width={652}
        height={750}
        style={{ position: 'absolute', left: 0, top: 0, pointerEvents: 'none' }}
        fontFamily={FONT}
      >
        <text x={321} y={13} textAnchor="middle" fontWeight="bold" fontSize={14.5} fill="#000">
          Two populations of individual differences
        </text>
        {sampleSizes.map((n, c) => (
          <text
            key={`h${c}`}
            x={colLeft[c] + PW / 2 + 1}
            y={36.5}
            textAnchor="middle"
            fontWeight="bold"
            fontSize={15}
            fill="#000"
          >
            {`N=${n}, p`}
            <tspan fontSize={10.5} dy={3}>o</tspan>
            <tspan dy={-3}>{`=${outlierProps[c]}`}</tspan>
          </text>
        ))}
        {[0, 1, 2, 3].map((r) =>
          [0, 1, 2, 3].map((c) => (
            <text
              key={`s${r}${c}`}
              x={colLeft[c] + PW / 2 + 1}
              y={rowTop[r] - 9.5}
              textAnchor="middle"
              fontWeight="bold"
              fontSize={12.5}
              fill="#000"
            >
              {`hddm= ${hddmScores[r][c].toFixed(2)} chi= ${chiScores[r][c].toFixed(2)}`}
            </text>
          ))
        )}
        {paramNames.map((p, r) => (
          <text key={`p${r}`} x={rowLabelX[r]} y={rowLabelY[r]} fontWeight="bold" fontSize={16} fill="#000">
            {p}
            {paramSubs[r] ? (
              <tspan fontSize={10} dy={5}>{paramSubs[r]}</tspan>
            ) : null}
          </text>
        ))}
        <text x={346} y={745} textAnchor="middle" fontWeight="bold" fontSize={14.7} fill="#000">
          Parameter values used to generate simulated data
        </text>
      </svg>
    </div>
  );
}
